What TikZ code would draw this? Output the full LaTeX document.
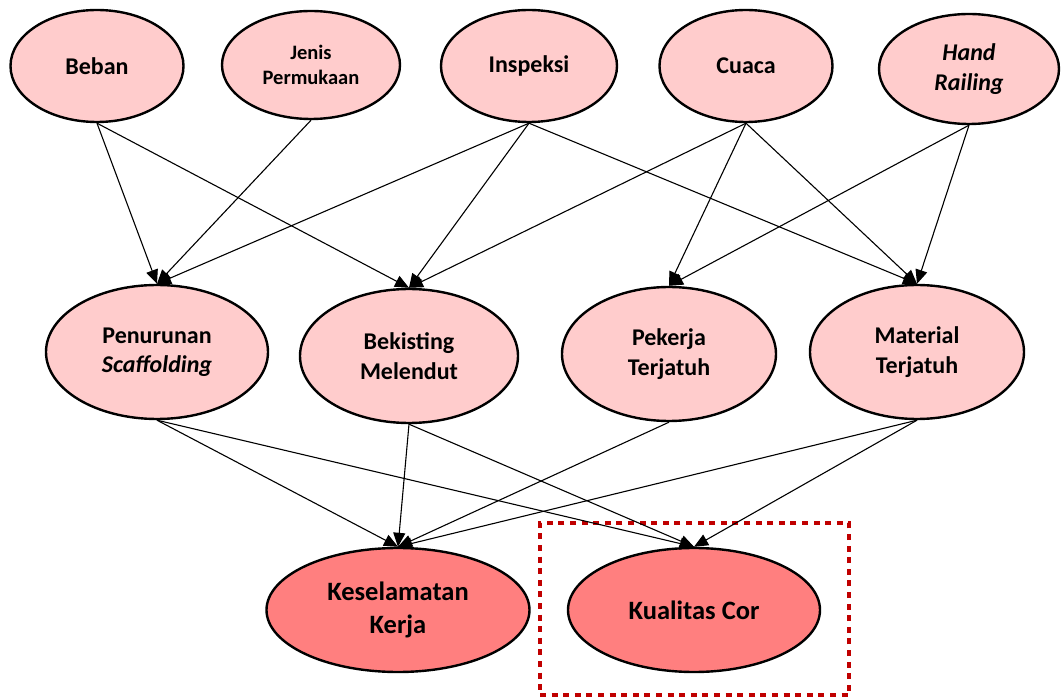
\documentclass[tikz,border=0pt]{standalone}
\usepackage{fontspec}
\setmainfont{Carlito}
\usetikzlibrary{shapes.geometric,arrows.meta}
\definecolor{nodepink}{HTML}{FFCCCC}
\definecolor{goalpink}{HTML}{FF7F7F}
\definecolor{boxred}{HTML}{C00000}
\begin{document}
\begin{tikzpicture}[x=1pt,y=-1pt,
  factor/.style={ellipse,draw=black,line width=2.4pt,fill=nodepink,inner sep=0pt,
    align=center,font=\fontsize{24}{29.5}\selectfont\bfseries},
  goal/.style={factor,fill=goalpink,font=\fontsize{26.5}{33}\selectfont\bfseries},
  link/.style={line width=1.1pt,-{Triangle[length=14pt,width=12pt]}},
  focusbox/.style={draw=boxred,line width=4.5pt,dash pattern=on 6pt off 5.6pt,
    minimum width=309pt,minimum height=172pt,inner sep=0pt}
]
\useasboundingbox (0,0) rectangle (1061,700);

% top row: influencing factors
\node[factor,minimum width=173pt,minimum height=112pt] (beban) at (97,66) {Beban};
\node[factor,minimum width=178pt,minimum height=108pt,font=\fontsize{20.5}{25}\selectfont\bfseries] (jenis) at (311,65) {Jenis\\Permukaan};
\node[factor,minimum width=176pt,minimum height=112pt] (inspeksi) at (529,66) {Inspeksi};
\node[factor,minimum width=173pt,minimum height=112pt] (cuaca) at (746,66) {Cuaca};
\node[factor,minimum width=180pt,minimum height=110pt] (hand) at (969,69) {\itshape Hand\\\itshape Railing};

% middle row: risk events
\node[factor,minimum width=222pt,minimum height=134pt] (penurunan) at (157,352) {Penurunan\\\itshape Scaffolding};
\node[factor,minimum width=218pt,minimum height=134pt] (bekisting) at (409,356) {Bekisting\\Melendut};
\node[factor,minimum width=214pt,minimum height=134pt] (pekerja) at (669,354) {Pekerja\\Terjatuh};
\node[factor,minimum width=214pt,minimum height=134pt] (material) at (917,352) {Material\\Terjatuh};

% bottom row: outcomes
\node[goal,minimum width=263pt,minimum height=124pt] (keselamatan) at (398,610) {Keselamatan\\Kerja};
\node[goal,minimum width=252pt,minimum height=124pt] (kualitas) at (694,610) {Kualitas Cor};

% highlighted outcome
\node[focusbox] (focus) at (694.5,609) {};

% top row to middle row
\draw[link] (beban.south) -- (penurunan.north);
\draw[link] (beban.south) -- (bekisting.north);
\draw[link] (jenis.south) -- (penurunan.north);
\draw[link] (inspeksi.south) -- (penurunan.north);
\draw[link] (inspeksi.south) -- (bekisting.north);
\draw[link] (inspeksi.south) -- (material.north);
\draw[link] (cuaca.south) -- (bekisting.north);
\draw[link] (cuaca.south) -- (pekerja.north);
\draw[link] (cuaca.south) -- (material.north);
\draw[link] (hand.south) -- (pekerja.north);
\draw[link] (hand.south) -- (material.north);

% middle row to outcomes
\draw[link] (penurunan.south) -- (keselamatan.north);
\draw[link] (penurunan.south) -- (kualitas.north);
\draw[link] (bekisting.south) -- (keselamatan.north);
\draw[link] (bekisting.south) -- (kualitas.north);
\draw[link] (pekerja.south) -- (keselamatan.north);
\draw[link] (material.south) -- (keselamatan.north);
\draw[link] (material.south) -- (kualitas.north);
\end{tikzpicture}
\end{document}
